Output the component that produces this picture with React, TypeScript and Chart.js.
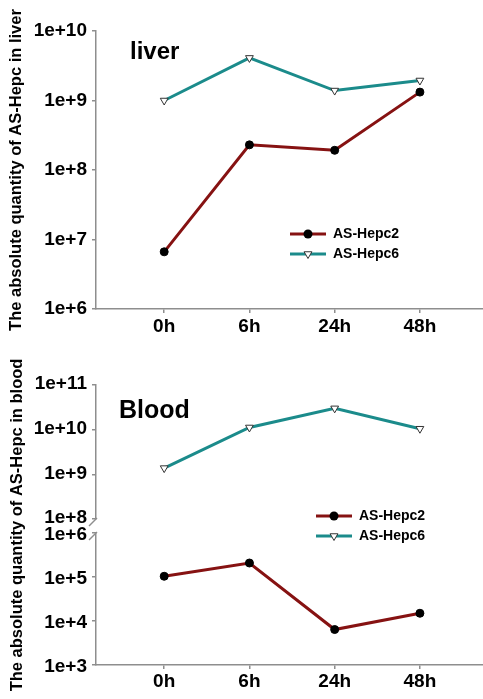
import React, { useEffect, useRef } from 'react';
import { Chart, registerables } from 'chart.js';

Chart.register(...registerables);

// ---------- data ----------
const timeLabels = ['0h', '6h', '24h', '48h'];
const timeIndex = [0, 1, 2, 3];
const seriesNames = ['AS-Hepc2', 'AS-Hepc6'];

const liverHepc2 = [6.65e6, 2.3e8, 1.92e8, 1.32e9];
const liverHepc6 = [1.0e9, 4.1e9, 1.39e9, 1.94e9];

const bloodHepc2 = [1.04e5, 2.08e5, 6.4e3, 1.5e4];
const bloodHepc6 = [1.38e9, 1.12e10, 3.0e10, 1.05e10];

const liverTicks = [1e6, 1e7, 1e8, 1e9, 1e10];
const bloodUpperTicks = [1e8, 1e9, 1e10, 1e11];
const bloodLowerTicks = [1e3, 1e4, 1e5, 1e6];

const liverTitle = 'liver';
const bloodTitle = 'Blood';
const liverAxisTitle = 'The absolute quantity of AS-Hepc in liver';
const bloodAxisTitle = 'The absolute quantity of AS-Hepc in blood';

// ---------- styles ----------
const FONT = "'Liberation Sans', Arial, Helvetica, sans-serif";
const RED = '#861212';
const TEAL = '#1b8b8b';
const AXIS = '#8e8e8e';

Chart.defaults.font.family = FONT;
Chart.defaults.color = '#000';

const powLabel = (v: number) => '1e+' + Math.round(Math.log10(v));

function legendImage(color: string, marker: 'circle' | 'triangle'): HTMLCanvasElement {
  const c = document.createElement('canvas');
  c.width = 36;
  c.height = 12;
  const ctx = c.getContext('2d')!;
  ctx.strokeStyle = color;
  ctx.lineWidth = 3;
  ctx.beginPath();
  ctx.moveTo(0, 6);
  ctx.lineTo(36, 6);
  ctx.stroke();
  ctx.lineWidth = 1;
  if (marker === 'circle') {
    ctx.fillStyle = '#000';
    ctx.beginPath();
    ctx.arc(18, 6, 4.5, 0, Math.PI * 2);
    ctx.fill();
  } else {
    const r = 4.5;
    ctx.fillStyle = '#fff';
    ctx.strokeStyle = '#333';
    ctx.beginPath();
    ctx.moveTo(18, 6 + r);
    ctx.lineTo(18 - r * Math.sin(Math.PI / 3), 6 - r / 2);
    ctx.lineTo(18 + r * Math.sin(Math.PI / 3), 6 - r / 2);
    ctx.closePath();
    ctx.fill();
    ctx.stroke();
  }
  return c;
}

const tickFont = { size: 19, weight: 'bold' as const };
const axisTitleFont = { size: 16.5, weight: 'bold' as const };

function xScale(height: number, pad: number) {
  return {
    type: 'linear' as const,
    min: -0.8,
    max: 3.74,
    afterBuildTicks: (s: any) => {
      s.ticks = timeIndex.map((v) => ({ value: v }));
    },
    ticks: {
      callback: (_v: any, i: number) => timeLabels[i],
      font: tickFont,
      color: '#000',
      padding: pad,
      autoSkip: false,
      maxRotation: 0,
    },
    grid: { drawOnChartArea: false, drawTicks: true, tickLength: 4, color: AXIS, lineWidth: 1.5 },
    border: { color: AXIS, width: 1.5 },
    afterFit: (s: any) => {
      s.height = height;
      s.paddingLeft = 0;
      s.paddingRight = 0;
    },
  };
}

function yTicks(offset: number) {
  return {
    callback: (v: any) => powLabel(Number(v)),
    font: tickFont,
    color: '#000',
    padding: 5,
    autoSkip: false,
    labelOffset: offset,
  };
}

function logY(min: number, max: number, ticks: number[], extra: any) {
  return {
    type: 'logarithmic' as const,
    position: 'left' as const,
    min,
    max,
    afterBuildTicks: (s: any) => {
      s.ticks = ticks.map((v) => ({ value: v }));
    },
    ticks: yTicks(0),
    grid: { drawOnChartArea: false, drawTicks: true, tickLength: 4, color: AXIS, lineWidth: 1.5 },
    border: { color: AXIS, width: 1.5 },
    ...extra,
  };
}

function hepc2Style() {
  return {
    borderColor: RED,
    backgroundColor: RED,
    borderWidth: 3,
    pointStyle: 'circle' as const,
    pointRadius: 4,
    pointBackgroundColor: '#000',
    pointBorderColor: '#000',
    pointBorderWidth: 1,
    tension: 0,
  };
}
function hepc6Style() {
  return {
    borderColor: TEAL,
    backgroundColor: TEAL,
    borderWidth: 3,
    pointStyle: 'triangle' as const,
    pointRotation: 180,
    pointRadius: 4.5,
    pointBackgroundColor: '#fff',
    pointBorderColor: '#333',
    pointBorderWidth: 1,
    tension: 0,
  };
}

function legendOptions() {
  const imgs = [legendImage(RED, 'circle'), legendImage(TEAL, 'triangle')];
  return {
    display: true,
    position: 'chartArea' as const,
    align: 'start' as const,
    labels: {
      usePointStyle: true,
      pointStyleWidth: 36,
      boxHeight: 14,
      padding: 6,
      color: '#000',
      font: { size: 14, weight: 'bold' as const },
      generateLabels: (chart: any) =>
        chart.data.datasets.map((ds: any, i: number) => ({
          text: ds.label,
          pointStyle: imgs[seriesNames.indexOf(ds.label)],
          rotation: 0,
          fillStyle: ds.borderColor,
          strokeStyle: ds.borderColor,
          lineWidth: 0,
          hidden: false,
          datasetIndex: i,
          fontColor: '#000',
        })),
    },
  };
}

function placePlugin(titleX: number, titleCenterY: number, titleLH: number, legendX: number, legendY: number) {
  return {
    id: 'placeBoxes',
    afterLayout(chart: any) {
      const t = chart.titleBlock;
      if (t) {
        t.left = titleX;
        t.right = chart.width;
        t.top = titleCenterY - titleLH / 2;
      }
      const l = chart.legend;
      if (l) {
        l.left = legendX;
        l.top = legendY;
      }
    },
  };
}

const breakPlugin = {
  id: 'axisBreak',
  afterDraw(chart: any) {
    const up = chart.scales.yUpper;
    const lo = chart.scales.yLower;
    if (!up || !lo) return;
    const ax = up.right;
    const ctx = chart.ctx;
    ctx.save();
    ctx.strokeStyle = AXIS;
    ctx.lineWidth = 1.5;
    for (const y of [up.bottom, lo.top]) {
      ctx.beginPath();
      ctx.moveTo(ax - 7, y + 7);
      ctx.lineTo(ax + 1, y - 1);
      ctx.stroke();
    }
    ctx.restore();
  },
};

function LiverChart() {
  const ref = useRef<HTMLCanvasElement>(null);
  useEffect(() => {
    const chart = new Chart(ref.current!, {
      type: 'line',
      data: {
        datasets: [
          { label: seriesNames[0], data: timeIndex.map((x, i) => ({ x, y: liverHepc2[i] })), ...hepc2Style() },
          { label: seriesNames[1], data: timeIndex.map((x, i) => ({ x, y: liverHepc6[i] })), ...hepc6Style() },
        ],
      },
      options: {
        responsive: false,
        animation: false,
        layout: { padding: 0, autoPadding: false },
        scales: {
          x: xScale(31, 2),
          y: logY(1e6, 1e10, liverTicks, {
            title: {
              display: true,
              text: liverAxisTitle,
              font: axisTitleFont,
              color: '#000',
              padding: { top: 7, bottom: 0 },
            },
            afterFit: (s: any) => {
              s.width = 96;
            },
          }),
        },
        plugins: {
          title: {
            display: true,
            text: liverTitle,
            align: 'start',
            color: '#000',
            font: { size: 24, weight: 'bold' },
            padding: { top: 0, bottom: 2.2 },
          },
          legend: legendOptions() as any,
          tooltip: { enabled: false },
        },
      },
      plugins: [placePlugin(130, 52, 28.8, 284, 221)],
    });
    return () => chart.destroy();
  }, []);
  return <canvas ref={ref} width={483} height={340} style={{ display: 'block' }} />;
}

function BloodChart() {
  const ref = useRef<HTMLCanvasElement>(null);
  useEffect(() => {
    const chart = new Chart(ref.current!, {
      type: 'line',
      data: {
        datasets: [
          {
            label: seriesNames[0],
            yAxisID: 'yLower',
            data: timeIndex.map((x, i) => ({ x, y: bloodHepc2[i] })),
            ...hepc2Style(),
          },
          {
            label: seriesNames[1],
            yAxisID: 'yUpper',
            data: timeIndex.map((x, i) => ({ x, y: bloodHepc6[i] })),
            ...hepc6Style(),
          },
        ],
      },
      options: {
        responsive: false,
        animation: false,
        layout: { padding: 0, autoPadding: false },
        scales: {
          x: xScale(34, 1),
          yLower: logY(1e3, 1e6, bloodLowerTicks, {
            stack: 'blood',
            stackWeight: 132,
            ticks: yTicks(2),
            afterFit: (s: any) => {
              s.width = 66;
            },
          }),
          yGap: {
            type: 'linear',
            position: 'left',
            stack: 'blood',
            stackWeight: 14,
            display: false,
          },
          yUpper: logY(1e8, 1e11, bloodUpperTicks, {
            stack: 'blood',
            stackWeight: 134,
            ticks: yTicks(-1),
            afterFit: (s: any) => {
              s.width = 66;
            },
          }),
          yTitle: {
            type: 'linear',
            position: 'left',
            display: true,
            ticks: { display: false },
            grid: { display: false, drawTicks: false },
            border: { display: false },
            title: {
              display: true,
              text: bloodAxisTitle,
              font: axisTitleFont,
              color: '#000',
              padding: { top: 8, bottom: 0 },
            },
            afterFit: (s: any) => {
              s.width = 30;
            },
          },
        } as any,
        plugins: {
          title: {
            display: true,
            text: bloodTitle,
            align: 'start',
            color: '#000',
            font: { size: 25, weight: 'bold' },
            padding: { top: 0, bottom: 15 },
          },
          legend: legendOptions() as any,
          tooltip: { enabled: false },
        },
      },
      plugins: [placePlugin(119, 70.7, 30, 310, 163), breakPlugin],
    });
    return () => chart.destroy();
  }, []);
  return <canvas ref={ref} width={483} height={359} style={{ display: 'block' }} />;
}

export default function App() {
  return (
    <div
      style={{
        position: 'absolute',
        left: 0,
        top: 0,
        width: 483,
        height: 699,
        background: '#fff',
        overflow: 'hidden',
      }}
    >
      <LiverChart />
      <BloodChart />
    </div>
  );
}
